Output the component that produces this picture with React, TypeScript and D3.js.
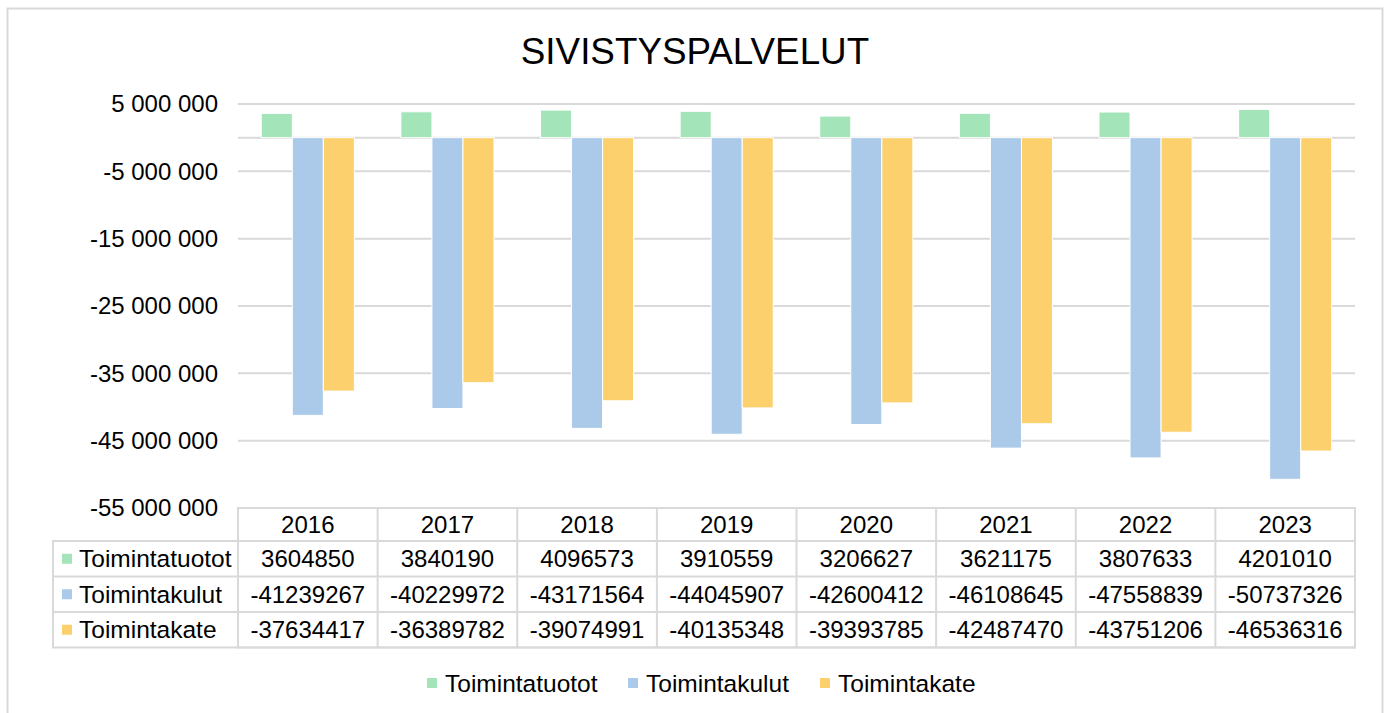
import React from "react";
import * as d3 from "d3";

const years = ["2016", "2017", "2018", "2019", "2020", "2021", "2022", "2023"];
const seriesNames = ["Toimintatuotot", "Toimintakulut", "Toimintakate"];
const tuotot = [3604850, 3840190, 4096573, 3910559, 3206627, 3621175, 3807633, 4201010];
const kulut = [-41239267, -40229972, -43171564, -44045907, -42600412, -46108645, -47558839, -50737326];
const kate = [-37634417, -36389782, -39074991, -40135348, -39393785, -42487470, -43751206, -46536316];
const colors = ["#A3E4B8", "#ABC9E8", "#FDD06E"];
const yTicks = [5000000, -5000000, -15000000, -25000000, -35000000, -45000000, -55000000];

const W = 1387;
const H = 713;
const FONT = "'Liberation Sans', Arial, sans-serif";

export default function App() {
  const values = [tuotot, kulut, kate];
  const left = 238;
  const right = 1355;
  const top = 104;
  const bottom = 508;
  const rowH = 35.5;
  const headerH = 33;
  const labelX = 53;

  const y = d3.scaleLinear().domain([-55000000, 5000000]).range([bottom, top]);
  const col = d3.scaleBand().domain(years).range([left, right]).padding(0);
  const x0 = d3
    .scaleBand()
    .domain(years)
    .range([left, right])
    .paddingInner(1.5 / 4.5)
    .paddingOuter(0.75 / 4.5);
  const x1 = d3.scaleBand().domain(seriesNames).range([0, x0.bandwidth()]);

  const fmt = (v: number) => {
    const s = Math.abs(v).toString().replace(/\B(?=(\d{3})+(?!\d))/g, " ");
    return (v < 0 ? "-" : "") + s;
  };

  const tableTop = bottom;
  const grid = "#D9D9D9";

  // legend layout
  const legendItems = [
    { x: 427, name: seriesNames[0] },
    { x: 628, name: seriesNames[1] },
    { x: 820, name: seriesNames[2] },
  ];

  return (
    <svg
      width={W}
      height={H}
      style={{ position: "absolute", left: 0, top: 0, background: "#fff" }}
      fontFamily={FONT}
    >
      <rect x={7.5} y={8.5} width={1375} height={720} fill="#fff" stroke={grid} strokeWidth={2} />
      <text x={695} y={64} textAnchor="middle" fontSize={36.8} fill="#000">
        SIVISTYSPALVELUT
      </text>

      {/* gridlines + y labels */}
      {yTicks.map((t) => (
        <g key={t}>
          {t !== -55000000 && (
            <line x1={left} x2={right} y1={y(t)} y2={y(t)} stroke={grid} strokeWidth={2} />
          )}
          <text x={218} y={y(t)} dy="0.35em" textAnchor="end" fontSize={24} fill="#000">
            {fmt(t)}
          </text>
        </g>
      ))}
      <line x1={left} x2={right} y1={y(0)} y2={y(0)} stroke={grid} strokeWidth={2} />

      {/* bars */}
      {years.map((yr, i) => (
        <g key={yr} transform={`translate(${x0(yr)},0)`}>
          {seriesNames.map((s, k) => {
            const v = values[k][i];
            return (
              <rect
                key={s}
                x={x1(s)}
                y={Math.min(y(v), y(0))}
                width={x1.bandwidth()}
                height={Math.abs(y(v) - y(0))}
                fill={colors[k]}
                stroke="#fff"
                strokeWidth={1}
              />
            );
          })}
        </g>
      ))}

      {/* data table */}
      <g stroke={grid} strokeWidth={2} fill="none">
        <rect x={left} y={tableTop} width={right - left} height={headerH + rowH * 3} />
        <rect x={labelX} y={tableTop + headerH} width={right - labelX} height={rowH * 3} />
        {[1, 2].map((r) => (
          <line
            key={r}
            x1={labelX}
            x2={right}
            y1={tableTop + headerH + rowH * r}
            y2={tableTop + headerH + rowH * r}
          />
        ))}
        {years.slice(1).map((yr) => (
          <line key={yr} x1={col(yr)} x2={col(yr)} y1={tableTop} y2={tableTop + headerH + rowH * 3} />
        ))}
      </g>
      {years.map((yr) => (
        <text
          key={yr}
          x={(col(yr) as number) + col.bandwidth() / 2}
          y={tableTop + headerH / 2}
          dy="0.35em"
          textAnchor="middle"
          fontSize={24}
          fill="#000"
        >
          {yr}
        </text>
      ))}
      {seriesNames.map((s, k) => {
        const cy = tableTop + headerH + rowH * k + rowH / 2;
        return (
          <g key={s}>
            <rect x={62} y={cy - 5} width={10} height={10} fill={colors[k]} />
            <text x={79} y={cy} dy="0.35em" fontSize={24.5} fill="#000">
              {s}
            </text>
            {years.map((yr, i) => (
              <text
                key={yr}
                x={(col(yr) as number) + col.bandwidth() / 2}
                y={cy}
                dy="0.35em"
                textAnchor="middle"
                fontSize={24}
                fill="#000"
              >
                {values[k][i]}
              </text>
            ))}
          </g>
        );
      })}

      {/* legend */}
      {legendItems.map((it, k) => (
        <g key={it.name}>
          <rect x={it.x} y={678} width={10} height={10} fill={colors[k]} />
          <text x={it.x + 18} y={683} dy="0.35em" fontSize={24.5} fill="#000">
            {it.name}
          </text>
        </g>
      ))}
    </svg>
  );
}
